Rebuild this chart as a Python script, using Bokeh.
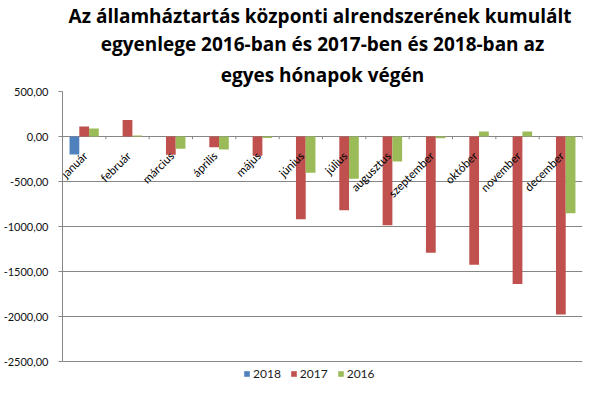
import numpy as np
from bokeh.plotting import figure
from bokeh.models import Range1d, FixedTicker, Title, Legend, LegendItem, ColumnDataSource
from bokeh.core.properties import value
from bokeh.embed import file_html
from bokeh.resources import INLINE

# ---- data ----
months = ["január", "február", "március", "április", "május", "június",
          "július", "augusztus", "szeptember", "október", "november", "december"]
y2018 = [-200]
y2017 = [112, 183, -202, -120, -213, -918, -817, -985, -1289, -1423, -1637, -1974]
y2016 = [90, 12, -135, -143, -15, -401, -468, -277, -19, 56, 56, -851]
y_ticks = [500, 0, -500, -1000, -1500, -2000, -2500]
y_tick_labels = ["500,00", "0,00", "-500,00", "-1000,00", "-1500,00", "-2000,00", "-2500,00"]
series_names = ["2018", "2017", "2016"]
title_lines = ["Az államháztartás központi alrendszerének  kumulált",
               "egyenlege 2016-ban és 2017-ben és 2018-ban az",
               "egyes hónapok végén"]

COLORS = ["#4F81BD", "#C0504D", "#9BBB59"]
FONT = "Lato"
TFONT = "Open Sans"
GRID = "#868686"

n = len(months)
centers = np.arange(n) + 0.5
bw = 0.225
y_top, y_bot = y_ticks[0], y_ticks[-1]
# extra room below the value axis (for the legend) at the same scale
y_extra = 208

p = figure(width=584, height=380, output_backend="svg", toolbar_location=None,
           x_range=Range1d(0, n), y_range=Range1d(y_bot - y_extra, y_top),
           x_axis_location=None,
           min_border_left=54, min_border_right=2, min_border_top=0, min_border_bottom=0)
p.outline_line_color = None
p.background_fill_color = "white"

# titles (first added is nearest plot)
standoffs = [0, 0, 7]
for line, so in reversed(list(zip(title_lines, standoffs))):
    t = Title(text=line, align="center", text_font=TFONT, text_font_size="19px",
              text_font_style="bold", text_color="#000000", text_line_height=0.8,
              standoff=so, offset=0)
    p.add_layout(t, "above")

# axes
p.xgrid.visible = False
p.yaxis.ticker = FixedTicker(ticks=y_ticks)
p.yaxis.bounds = (y_bot, y_top)
p.yaxis.major_label_overrides = {t: l for t, l in zip(y_ticks, y_tick_labels)}
p.yaxis.axis_line_color = GRID
p.yaxis.major_tick_line_color = GRID
p.yaxis.major_tick_out = 4
p.yaxis.major_tick_in = 0
p.yaxis.minor_tick_line_color = None
p.yaxis.major_label_standoff = 10
p.yaxis.major_label_text_font = FONT
p.yaxis.major_label_text_font_size = "11px"
p.yaxis.major_label_text_color = "#111111"
p.ygrid.ticker = FixedTicker(ticks=y_ticks)
p.ygrid.grid_line_color = GRID
p.ygrid.grid_line_width = 1

# bars
r18 = p.vbar(x=centers[:len(y2018)] - bw, top=y2018, bottom=0, width=bw,
             fill_color=COLORS[0], line_color=None)
r17 = p.vbar(x=centers, top=y2017, bottom=0, width=bw,
             fill_color=COLORS[1], line_color=None)
r16 = p.vbar(x=centers + bw, top=y2016, bottom=0, width=bw,
             fill_color=COLORS[2], line_color=None)

# category tick marks on the zero line
bounds = np.arange(n + 1)
p.segment(x0=bounds, y0=np.zeros(n + 1), x1=bounds, y1=np.full(n + 1, -30.0),
          line_color=GRID, line_width=1)

# month labels
src = ColumnDataSource(dict(x=centers, y=np.zeros(n), t=months))
p.text(x="x", y="y", text="t", source=src, angle=np.pi / 4,
       text_align="right", text_baseline="middle", y_offset=17, x_offset=1,
       text_font=value(FONT), text_font_size="11.5px", text_color="#000000")

legend = Legend(items=[LegendItem(label=series_names[0], renderers=[r18]),
                       LegendItem(label=series_names[1], renderers=[r17]),
                       LegendItem(label=series_names[2], renderers=[r16])],
                orientation="horizontal", location=(181, -1),
                glyph_width=7, glyph_height=7, label_standoff=3, spacing=9,
                padding=0, margin=0, border_line_color=None,
                background_fill_alpha=0,
                label_text_font=FONT, label_text_font_size="12px",
                label_text_color="#1a1a1a", label_height=14)
p.add_layout(legend, "center")

open("out.html", "w").write(file_html(p, INLINE))
